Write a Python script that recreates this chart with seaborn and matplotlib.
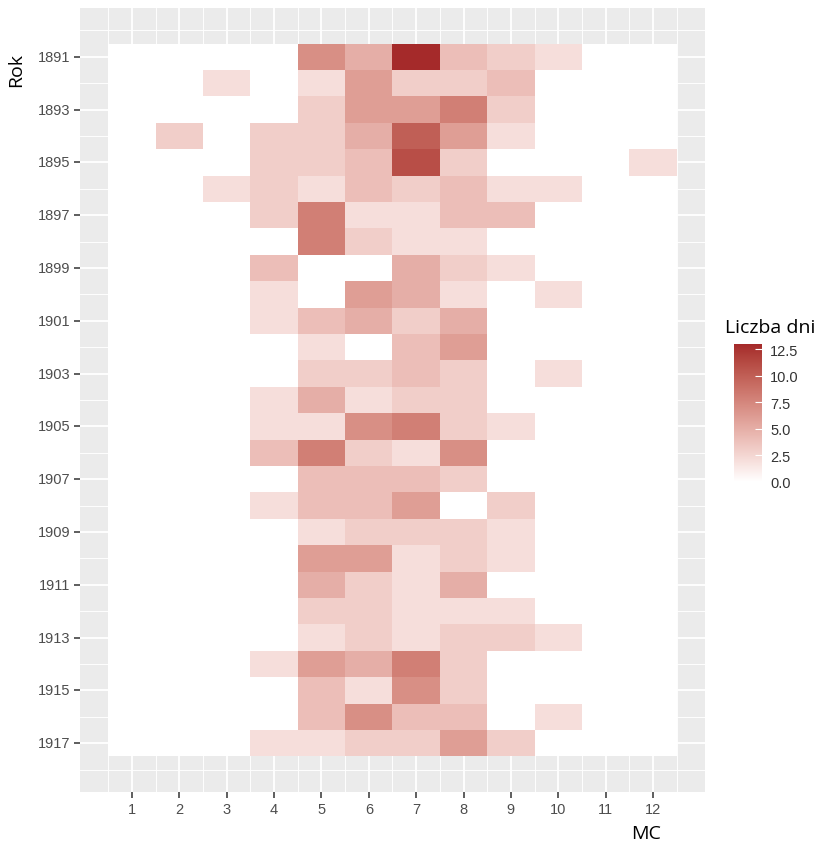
import numpy as np
import pandas as pd
import matplotlib
matplotlib.use("Agg")
import matplotlib.pyplot as plt
import seaborn as sns
from matplotlib.colors import ListedColormap, to_rgb

# ---------------- data ----------------
years = list(range(1891, 1918))
months = [1, 2, 3, 4, 5, 6, 7, 8, 9, 10, 11, 12]

month_1 = [0, 0, 0, 0, 0, 0, 0, 0, 0, 0, 0, 0, 0, 0, 0, 0, 0, 0, 0, 0, 0, 0, 0, 0, 0, 0, 0]
month_2 = [0, 0, 0, 3, 0, 0, 0, 0, 0, 0, 0, 0, 0, 0, 0, 0, 0, 0, 0, 0, 0, 0, 0, 0, 0, 0, 0]
month_3 = [0, 2, 0, 0, 0, 2, 0, 0, 0, 0, 0, 0, 0, 0, 0, 0, 0, 0, 0, 0, 0, 0, 0, 0, 0, 0, 0]
month_4 = [0, 0, 0, 3, 3, 3, 3, 0, 4, 2, 2, 0, 0, 2, 2, 4, 0, 2, 0, 0, 0, 0, 0, 2, 0, 0, 2]
month_5 = [7, 2, 3, 3, 3, 2, 8, 8, 0, 0, 4, 2, 3, 5, 2, 8, 4, 4, 2, 6, 5, 3, 2, 6, 4, 4, 2]
month_6 = [5, 6, 6, 5, 4, 4, 2, 3, 0, 6, 5, 0, 3, 2, 7, 3, 4, 4, 3, 6, 3, 3, 3, 5, 2, 7, 3]
month_7 = [13, 3, 6, 10, 11, 3, 2, 2, 5, 5, 3, 4, 4, 3, 8, 2, 4, 6, 3, 2, 2, 2, 2, 8, 7, 4, 3]
month_8 = [4, 3, 8, 6, 3, 4, 4, 2, 3, 2, 5, 6, 3, 3, 3, 7, 3, 0, 3, 3, 5, 2, 3, 3, 3, 4, 6]
month_9 = [3, 4, 3, 2, 0, 2, 4, 0, 2, 0, 0, 0, 0, 0, 2, 0, 0, 3, 2, 2, 0, 2, 3, 0, 0, 0, 3]
month_10 = [2, 0, 0, 0, 0, 2, 0, 0, 0, 2, 0, 0, 2, 0, 0, 0, 0, 0, 0, 0, 0, 0, 2, 0, 0, 2, 0]
month_11 = [0, 0, 0, 0, 0, 0, 0, 0, 0, 0, 0, 0, 0, 0, 0, 0, 0, 0, 0, 0, 0, 0, 0, 0, 0, 0, 0]
month_12 = [0, 0, 0, 0, 2, 0, 0, 0, 0, 0, 0, 0, 0, 0, 0, 0, 0, 0, 0, 0, 0, 0, 0, 0, 0, 0, 0]

legend_breaks = [0.0, 2.5, 5.0, 7.5, 10.0, 12.5]

df = pd.DataFrame(
    {1: month_1, 2: month_2, 3: month_3, 4: month_4, 5: month_5, 6: month_6,
     7: month_7, 8: month_8, 9: month_9, 10: month_10, 11: month_11, 12: month_12},
    index=years)[months]

# ---------------- Lab gradient (ggplot style) ----------------
_M = np.array([[0.4124, 0.3576, 0.1805],
               [0.2126, 0.7152, 0.0722],
               [0.0193, 0.1192, 0.9505]])
_Mi = np.linalg.inv(_M)
_WN = np.array([0.95047, 1.0, 1.08883])
_d = 6 / 29


def _to_lab(rgb):
    c = np.array(rgb, float)
    lin = np.where(c <= 0.04045, c / 12.92, ((c + 0.055) / 1.055) ** 2.4)
    xyz = _M @ lin / _WN
    f = np.where(xyz > _d ** 3, np.cbrt(xyz), xyz / (3 * _d ** 2) + 4 / 29)
    return np.array([116 * f[1] - 16, 500 * (f[0] - f[1]), 200 * (f[1] - f[2])])


def _from_lab(lab):
    L, a, b = lab
    fy = (L + 16) / 116
    f = np.array([fy + a / 500, fy, fy - b / 200])
    xyz = np.where(f > _d, f ** 3, 3 * _d ** 2 * (f - 4 / 29)) * _WN
    lin = np.clip(_Mi @ xyz, 0, 1)
    c = np.where(lin <= 0.0031308, 12.92 * lin, 1.055 * lin ** (1 / 2.4) - 0.055)
    return np.clip(c, 0, 1)


lo = _to_lab(to_rgb("#FFFFFF"))
hi = _to_lab(to_rgb("#A52A2A"))
cmap = ListedColormap([_from_lab(lo + (hi - lo) * t) for t in np.linspace(0, 1, 256)])

# ---------------- figure ----------------
W, H = 820, 845
fig = plt.figure(figsize=(W / 100, H / 100), dpi=100)
ax = fig.add_axes([80 / W, (H - 793) / H, 625 / W, 784 / H])
cax = fig.add_axes([734 / W, (H - 483) / H, 28 / W, 138 / H])

sns.heatmap(df, ax=ax, cbar_ax=cax, cmap=cmap, vmin=0, vmax=13, linewidths=0)

ax.set_xlim(-0.6, 12.6)
ax.set_ylim(28.35, -1.35)
ax.set_facecolor("#EBEBEB")
for s in ax.spines.values():
    s.set_visible(False)

ax.set_xticks(np.arange(12) + 0.5)
ax.set_xticklabels([str(m) for m in months], rotation=0)
ax.set_yticks(np.arange(0, 27, 2) + 0.5)
ax.set_yticklabels([str(y) for y in years[::2]], rotation=0)
ax.set_xticks(np.arange(0, 13), minor=True)
ax.set_yticks(np.arange(-0.5, 28.6, 2), minor=True)
ax.set_axisbelow(True)
ax.grid(which="major", color="white", linewidth=1.3)
ax.grid(which="minor", color="white", linewidth=0.65)
ax.tick_params(which="major", length=4, width=1.1, color="#333333",
               labelsize=10.5, labelcolor="#4D4D4D", pad=3)
ax.tick_params(which="minor", length=0)
for lab in ax.get_xticklabels() + ax.get_yticklabels():
    lab.set_fontfamily("Liberation Sans")
ax.set_xlabel("")
ax.set_ylabel("")

fig.text(16 / W, 1 - 70 / H, "Rok", rotation=90, ha="center", va="center",
         fontsize=14, family="Open Sans", color="black")
fig.text(646 / W, 1 - 834 / H, "MC", ha="center", va="center",
         fontsize=14, family="Open Sans", color="black")
fig.text(725 / W, 1 - 328 / H, "Liczba dni", ha="left", va="center",
         fontsize=14, family="Open Sans", color="black")

cb = ax.collections[0].colorbar
cb.outline.set_visible(False)
cb.set_ticks(legend_breaks)
cb.set_ticklabels([f"{v:.1f}" for v in legend_breaks])
cax.tick_params(which="both", length=5, width=0.8, color="white", direction="in",
                labelsize=10.5, labelcolor="#333333", pad=6)
cax.tick_params(which="minor", length=0)
for lab in cax.get_yticklabels():
    lab.set_fontfamily("Liberation Sans")

fig.savefig("out.png", dpi=100)
